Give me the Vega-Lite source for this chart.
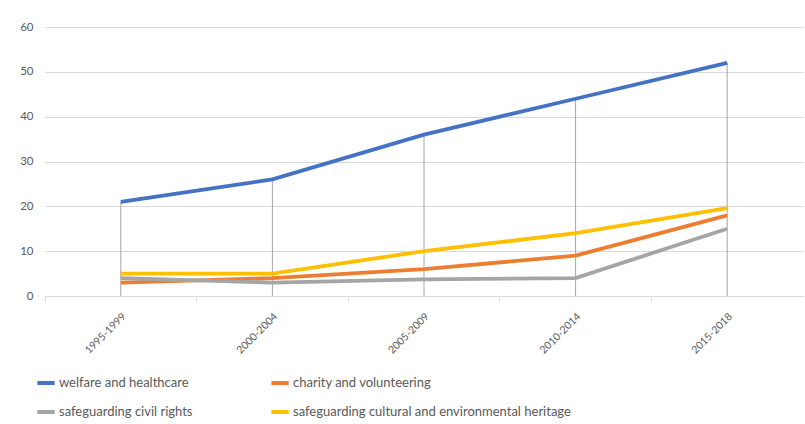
{
  "$schema": "https://vega.github.io/schema/vega-lite/v6.json",
  "autosize": {"type": "none"},
  "padding": {"left": 45, "top": 27, "right": 2, "bottom": 128},
  "width": 758,
  "height": 269,
  "background": "white",
  "config": {
    "view": {"stroke": null},
    "font": "Lato",
    "axis": {"labelFont": "Lato", "labelColor": "#595959", "labelFontSize": 11.5, "title": null},
    "legend": {"labelFont": "Lato"}
  },
  "data": {
    "values": [
      {"period": "1995-1999", "series": "welfare and healthcare", "value": 21},
      {"period": "2000-2004", "series": "welfare and healthcare", "value": 26},
      {"period": "2005-2009", "series": "welfare and healthcare", "value": 36},
      {"period": "2010-2014", "series": "welfare and healthcare", "value": 44},
      {"period": "2015-2018", "series": "welfare and healthcare", "value": 52},
      {"period": "1995-1999", "series": "charity and volunteering", "value": 3},
      {"period": "2000-2004", "series": "charity and volunteering", "value": 4},
      {"period": "2005-2009", "series": "charity and volunteering", "value": 6},
      {"period": "2010-2014", "series": "charity and volunteering", "value": 9},
      {"period": "2015-2018", "series": "charity and volunteering", "value": 18},
      {"period": "1995-1999", "series": "safeguarding civil rights", "value": 4},
      {"period": "2000-2004", "series": "safeguarding civil rights", "value": 3},
      {"period": "2005-2009", "series": "safeguarding civil rights", "value": 3.7},
      {"period": "2010-2014", "series": "safeguarding civil rights", "value": 4},
      {"period": "2015-2018", "series": "safeguarding civil rights", "value": 15},
      {"period": "1995-1999", "series": "safeguarding cultural and environmental heritage", "value": 5},
      {"period": "2000-2004", "series": "safeguarding cultural and environmental heritage", "value": 5},
      {"period": "2005-2009", "series": "safeguarding cultural and environmental heritage", "value": 10},
      {"period": "2010-2014", "series": "safeguarding cultural and environmental heritage", "value": 14},
      {"period": "2015-2018", "series": "safeguarding cultural and environmental heritage", "value": 19.6}
    ]
  },
  "encoding": {
    "x": {
      "field": "period",
      "type": "nominal",
      "sort": null,
      "scale": {"type": "band", "paddingInner": 0, "paddingOuter": 0},
      "axis": {
        "labelAngle": -45,
        "labelFontSize": 10.5,
        "domainColor": "#d9d9d9",
        "tickColor": "#d9d9d9",
        "tickSize": 5,
        "labelPadding": 10,
        "bandPosition": 0,
        "grid": false
      }
    }
  },
  "layer": [
    {
      "transform": [
        {"aggregate": [{"op": "max", "field": "value", "as": "maxv"}], "groupby": ["period"]}
      ],
      "mark": {"type": "rule", "color": "#a6a6a6", "strokeWidth": 1},
      "encoding": {
        "y": {"field": "maxv", "type": "quantitative", "scale": {"domain": [0, 60], "nice": false}},
        "y2": {"datum": 0}
      }
    },
    {
      "mark": {"type": "line", "strokeWidth": 3.8},
      "encoding": {
        "y": {
          "field": "value",
          "type": "quantitative",
          "scale": {"domain": [0, 60], "nice": false},
          "axis": {
            "values": [0, 10, 20, 30, 40, 50, 60],
            "domain": false,
            "ticks": false,
            "gridColor": "#d9d9d9",
            "labelPadding": 12
          }
        },
        "color": {
          "field": "series",
          "type": "nominal",
          "sort": null,
          "scale": {
            "domain": ["welfare and healthcare", "charity and volunteering", "safeguarding civil rights", "safeguarding cultural and environmental heritage"],
            "range": ["#4472C4", "#ED7D31", "#A5A5A5", "#FFC000"]
          },
          "legend": {
            "title": null,
            "orient": "none",
            "direction": "horizontal",
            "legendX": -10,
            "legendY": 345,
            "columns": 2,
            "columnPadding": 70,
            "rowPadding": 10,
            "symbolType": "stroke",
            "symbolSize": 300,
            "symbolStrokeWidth": 4,
            "labelFontSize": 13,
            "labelColor": "#595959",
            "labelOffset": 2,
            "labelLimit": 400
          }
        }
      }
    }
  ]
}
